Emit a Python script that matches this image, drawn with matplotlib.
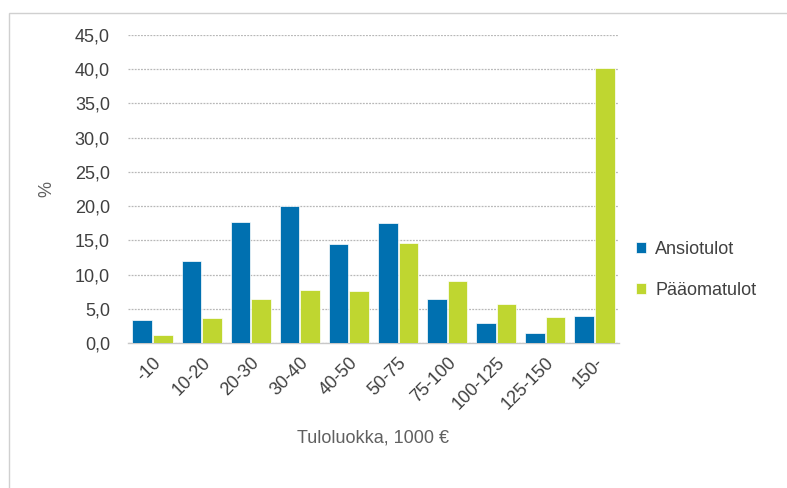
import numpy as np
import matplotlib
matplotlib.use("Agg")
import matplotlib.pyplot as plt
from matplotlib.patches import Rectangle
from matplotlib.ticker import FuncFormatter

plt.rcParams['font.family'] = ['Liberation Sans', 'DejaVu Sans']

# data
categories = ['-10', '10-20', '20-30', '30-40', '40-50', '50-75',
              '75-100', '100-125', '125-150', '150-']
ansiotulot = [3.3, 12.0, 17.7, 20.0, 14.4, 17.5, 6.4, 2.9, 1.5, 4.0]
paaomatulot = [1.2, 3.6, 6.4, 7.8, 7.6, 14.6, 9.0, 5.7, 3.8, 40.2]
series_names = ['Ansiotulot', 'Pääomatulot']
yticks = np.arange(0, 46, 5)

blue = '#0070b0'
green = '#bfd630'
txt = '#404040'
fs = 13

fig = plt.figure(figsize=(7.87, 4.88), dpi=100)

# light frame around the chart area
fig.patches.append(Rectangle((9 / 787, -0.1), 1.2, 0.1 + 1 - 13 / 488,
                             transform=fig.transFigure, fill=False,
                             edgecolor='#d0d0d0', linewidth=1.0))

ax = fig.add_axes([128 / 787, 1 - 343 / 488, (619 - 128) / 787, (343 - 35) / 488])

x = np.arange(len(categories))
w = 0.4
ax.bar(x - w / 2 - 0.01, ansiotulot, w, color=blue, edgecolor='white',
       linewidth=0.5, label=series_names[0], zorder=3)
ax.bar(x + w / 2 + 0.01, paaomatulot, w, color=green, edgecolor='white',
       linewidth=0.5, label=series_names[1], zorder=3)

ax.set_xlim(-0.5, len(categories) - 0.5)
ax.set_ylim(0, 45)
ax.set_yticks(yticks)
ax.yaxis.set_major_formatter(FuncFormatter(lambda v, p: f"{v:.1f}".replace('.', ',')))
ax.grid(axis='y', color='#b8b8b8', linestyle=(0, (1.5, 1)), linewidth=0.9, zorder=0)

for s in ['top', 'right', 'left']:
    ax.spines[s].set_visible(False)
ax.spines['bottom'].set_color('#c8c8c8')
ax.spines['bottom'].set_linewidth(1.0)

ax.tick_params(axis='both', length=0, labelsize=fs, labelcolor=txt)
ax.tick_params(axis='y', pad=13)
ax.set_xticks(x)
ax.set_xticklabels(categories, rotation=45, ha='right', va='top',
                   rotation_mode='anchor')
ax.tick_params(axis='x', pad=8)

ax.set_ylabel('%', fontsize=fs, color='#606060')
ax.yaxis.set_label_coords(-0.147, 0.5)
ax.set_xlabel('Tuloluokka, 1000 €', fontsize=fs, color='#606060')
ax.xaxis.set_label_coords(0.499, -0.282)

fig.legend(loc='center left', bbox_to_anchor=(620 / 787, 1 - 270 / 488),
           frameon=False, fontsize=fs, labelspacing=1.3,
           handlelength=0.55, handleheight=0.55, handletextpad=0.5,
           labelcolor=txt)

fig.savefig('out.png', dpi=100)
